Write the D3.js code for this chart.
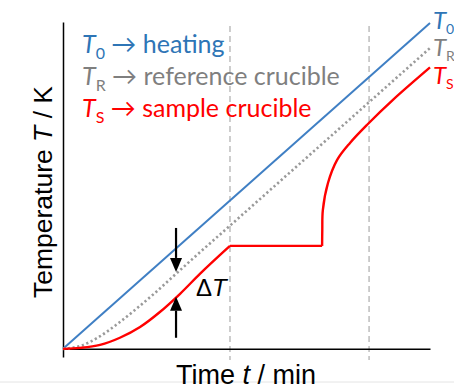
<!DOCTYPE html>
<html>
<head>
<meta charset="utf-8">
<script src="https://cdn.jsdelivr.net/npm/d3@7"></script>
<style>
  body { margin: 0; background: #fff; }
  svg { display: block; }
</style>
</head>
<body>
<div id="chart"></div>
<script>
const width = 454;
const height = 389;

// curves, time (0-100) vs temperature (0-100)
const heating = [[0, 0], [100, 100]];
const reference = [[0, 0], [5, 1], [10, 3.8], [15, 7.8], [20, 12.3], [25, 17.1],
  [30, 22.2], [35, 27.3], [45, 37.3], [100, 92.3]];
const sampleRise = [[0, 0], [4.6, 0.3], [10.1, 1.2], [15.5, 3.4], [21, 6.7],
  [26.4, 11.3], [31.9, 16.9], [37.3, 23.0], [45.5, 31.6]];
const samplePlateau = [[45.5, 31.6], [70.6, 31.6]];
const sampleMelt = [[70.6, 31.6], [70.65, 36.5], [70.8, 42.6], [72.2, 50.9], [74.7, 58.0],
  [78.2, 63.2], [82.8, 68.7], [89.9, 76.4], [100, 86.35]];
const markerTimes = [45.5, 83.4];
const deltaT = { t: 30.8, top: 37.1, ref: 23.6, sample: 16.0, bottom: 3.4 };

const legendItems = [
  { sub: "0", text: " \u2192 heating", color: "#2e75b6" },
  { sub: "R", text: " \u2192 reference crucible", color: "#7f7f7f" },
  { sub: "S", text: " \u2192 sample crucible", color: "#ff0000" }
];

const svg = d3.select("#chart").append("svg")
  .attr("width", width)
  .attr("height", height);

const x = d3.scaleLinear().domain([0, 100]).range([63, 430]);
const y = d3.scaleLinear().domain([-2.5, 100.3]).range([357, 22]);

// faint slide border
svg.append("line").attr("x1", 0).attr("x2", width).attr("y1", 382).attr("y2", 382)
  .attr("stroke", "#e4e4e4").attr("stroke-width", 1);

// dashed time markers
svg.selectAll(".marker").data(markerTimes).join("line")
  .attr("class", "marker")
  .attr("x1", d => x(d)).attr("x2", d => x(d))
  .attr("y1", 26).attr("y2", 360)
  .attr("stroke", "#bdbdbd")
  .attr("stroke-width", 1.5)
  .attr("stroke-dasharray", "6 4");

// axes
svg.append("g")
  .attr("transform", `translate(0,${y(0)})`)
  .call(d3.axisBottom(x).ticks(0).tickSizeOuter(0))
  .call(g => g.select(".domain").attr("stroke", "#000").attr("stroke-width", 1.5));
svg.append("g")
  .attr("transform", `translate(${x(0)},0)`)
  .call(d3.axisLeft(y).ticks(0).tickSizeOuter(0))
  .call(g => g.select(".domain").attr("stroke", "#000").attr("stroke-width", 1.5));

const line = d3.line().x(d => x(d[0])).y(d => y(d[1])).curve(d3.curveMonotoneX);
const lineSmooth = d3.line().x(d => x(d[0])).y(d => y(d[1])).curve(d3.curveCatmullRom.alpha(0.5));

svg.append("path").datum(heating)
  .attr("d", line).attr("fill", "none")
  .attr("stroke", "#3f7fc4").attr("stroke-width", 2);

svg.append("path").datum(reference)
  .attr("d", line).attr("fill", "none")
  .attr("stroke", "#9a9a9a").attr("stroke-width", 2.6)
  .attr("stroke-dasharray", "2.2 2.6");

svg.append("path").datum(sampleRise)
  .attr("d", line).attr("fill", "none")
  .attr("stroke", "#ff0000").attr("stroke-width", 2.4);
svg.append("path").datum(samplePlateau)
  .attr("d", line).attr("fill", "none")
  .attr("stroke", "#ff0000").attr("stroke-width", 2.4);
svg.append("path").datum(sampleMelt)
  .attr("d", lineSmooth).attr("fill", "none")
  .attr("stroke", "#ff0000").attr("stroke-width", 2.4)
  .attr("stroke-linejoin", "round");

// delta T arrows
function arrow(t, from, to) {
  const xa = x(t), y1 = y(from), y2 = y(to);
  const dir = y2 > y1 ? 1 : -1;
  const head = 14;
  svg.append("line")
    .attr("x1", xa).attr("x2", xa)
    .attr("y1", y1).attr("y2", y2 - dir * head)
    .attr("stroke", "#000").attr("stroke-width", 2.2);
  svg.append("path")
    .attr("d", `M${xa},${y2} L${xa - 6},${y2 - dir * head} L${xa + 6},${y2 - dir * head} Z`)
    .attr("fill", "#000");
}
arrow(deltaT.t, deltaT.top, deltaT.ref);
arrow(deltaT.t, deltaT.bottom, deltaT.sample);

const dtLabel = svg.append("text")
  .attr("x", 196).attr("y", 296)
  .attr("font-family", "Liberation Sans, Arial, sans-serif")
  .attr("font-size", 24);
dtLabel.append("tspan").text("\u0394");
dtLabel.append("tspan").attr("font-style", "italic").text("T");

// legend
const legendFont = "Lato, 'Open Sans', sans-serif";
legendItems.forEach((d, i) => {
  const t = svg.append("text")
    .attr("x", 82).attr("y", 53 + i * 32)
    .attr("font-family", legendFont)
    .attr("font-size", 25)
    .attr("fill", d.color);
  t.append("tspan").attr("font-style", "italic").text("T");
  t.append("tspan").attr("font-size", 16).attr("dy", 6).text(d.sub);
  t.append("tspan").attr("dy", -6).text(d.text);
});

// end labels
legendItems.forEach((d, i) => {
  const t = svg.append("text")
    .attr("x", 433).attr("y", [29, 56, 84][i])
    .attr("font-family", legendFont)
    .attr("font-size", 24)
    .attr("fill", d.color);
  t.append("tspan").attr("font-style", "italic").text("T");
  t.append("tspan").attr("font-size", 14).attr("dy", 5).text(d.sub);
});

// axis titles
const yt = svg.append("text")
  .attr("transform", "translate(52,192) rotate(-90)")
  .attr("text-anchor", "middle")
  .attr("font-family", "Liberation Sans, Arial, sans-serif")
  .attr("font-size", 26.5);
yt.append("tspan").text("Temperature ");
yt.append("tspan").attr("font-style", "italic").text("T");
yt.append("tspan").text(" / K");

const xt = svg.append("text")
  .attr("x", 246).attr("y", 384)
  .attr("text-anchor", "middle")
  .attr("font-family", "Liberation Sans, Arial, sans-serif")
  .attr("font-size", 27);
xt.append("tspan").text("Time ");
xt.append("tspan").attr("font-style", "italic").text("t");
xt.append("tspan").text(" / min");
</script>
</body>
</html>
